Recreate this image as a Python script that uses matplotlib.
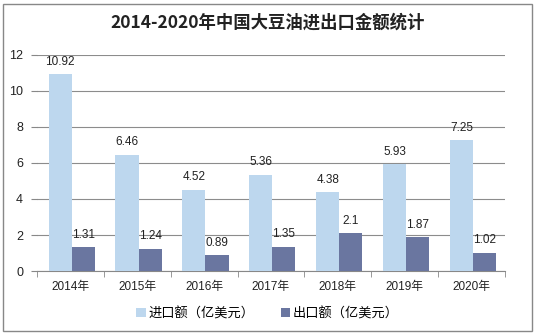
import numpy as np
import matplotlib.pyplot as plt
from matplotlib.patches import Rectangle

plt.rcParams['font.family'] = ['Liberation Sans', 'Noto Sans CJK SC', 'DejaVu Sans']

years = ["2014年", "2015年", "2016年", "2017年", "2018年", "2019年", "2020年"]
imports = [10.92, 6.46, 4.52, 5.36, 4.38, 5.93, 7.25]
exports = [1.31, 1.24, 0.89, 1.35, 2.1, 1.87, 1.02]
import_labels = ["10.92", "6.46", "4.52", "5.36", "4.38", "5.93", "7.25"]
export_labels = ["1.31", "1.24", "0.89", "1.35", "2.1", "1.87", "1.02"]

fig = plt.figure(figsize=(5.35, 3.35), dpi=100)
ax = fig.add_axes([0.069, 0.191, 0.875, 0.645])

x = np.arange(len(years))
w = 0.345
c1 = "#BDD7EE"
c2 = "#6A76A0"
b1 = ax.bar(x - w / 2 + 0.02, imports, w, color=c1, label="进口额（亿美元）", zorder=3)
b2 = ax.bar(x + w / 2 + 0.02, exports, w, color=c2, label="出口额（亿美元）", zorder=3)

for bars, labs in [(b1, import_labels), (b2, export_labels)]:
    for rect, lab in zip(bars, labs):
        ax.text(rect.get_x() + rect.get_width() / 2, rect.get_height() + 0.35, lab,
                ha="center", va="bottom", fontsize=8.5, color="#222222")

ax.set_xlim(-0.5, len(years) - 0.5)
ax.set_ylim(0, 12)
ax.set_yticks(range(0, 13, 2))
ax.tick_params(axis="y", length=4, color="#888888", labelsize=9, labelcolor="#222222", pad=6)
ax.yaxis.grid(True, color="#8c8c8c", linewidth=0.8, zorder=0)

ax.set_xticks(x)
ax.set_xticklabels(years, fontsize=8.5, color="#222222")
ax.set_xticks(np.arange(-0.5, len(years)), minor=True)
ax.tick_params(axis="x", which="major", length=0, pad=7)
ax.tick_params(axis="x", which="minor", length=4, color="#888888")

for s in ["top", "right", "left"]:
    ax.spines[s].set_visible(False)
ax.spines["bottom"].set_color("#888888")

fig.text(0.5, 0.933, "2014-2020年中国大豆油进出口金额统计", ha="center", va="center",
         fontsize=12.5, fontweight="bold", color="#222222",
         family=["Noto Sans CJK SC", "DejaVu Sans"])

fig.legend(handles=[b1, b2], loc="center", bbox_to_anchor=(0.5, 0.063), ncol=2,
           frameon=False, fontsize=9.5, handlelength=0.7, handleheight=0.7,
           handletextpad=0.2, columnspacing=2.0)

fig.patches.append(Rectangle((0.006, 0.012), 0.988, 0.976, transform=fig.transFigure,
                             fill=False, edgecolor="#888888", linewidth=1))

fig.savefig("out.png", dpi=100)
